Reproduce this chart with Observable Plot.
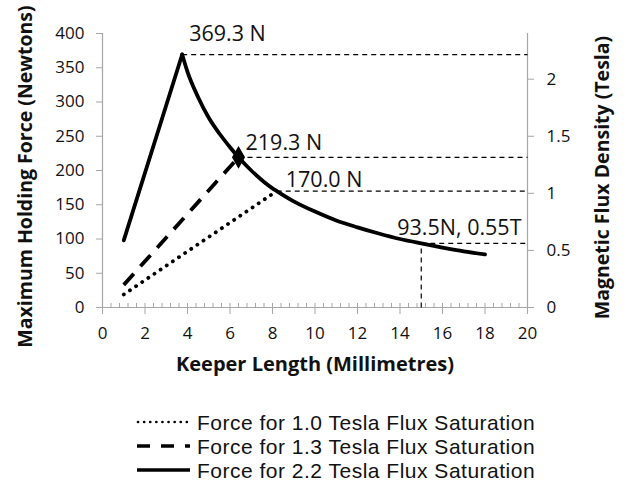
<!DOCTYPE html>
<html>
<head>
<meta charset="utf-8">
<script src="https://cdn.jsdelivr.net/npm/d3@7"></script>
<script src="https://cdn.jsdelivr.net/npm/@observablehq/plot@0.6"></script>
<style>
  html, body { margin: 0; padding: 0; background: #fff; }
  #chart { width: 638px; }
  .legend { font-family: "Liberation Sans", Arial, sans-serif; font-size: 21px; letter-spacing: 0.5px; line-height: 1; color: #111; position: relative; height: 94px; }
  .legend .row { position: absolute; left: 136px; height: 22px; display: flex; align-items: center; white-space: nowrap; }
  .legend .row span { line-height: 1; display: inline-block; }
  .legend svg { width: 56px; height: 12px; margin-right: 5px; flex: none; }
</style>
</head>
<body>
<div id="chart"></div>
<script>
// ---- data ----
const keeper10 = [1, 8.2];
const force10  = [19, 170];
const keeper13 = [1, 6.4];
const force13  = [33, 219.3];
const keeper22 = [1, 3.75, 4, 4.5, 5, 5.5, 6, 6.4, 7, 8, 8.2, 9, 10, 11, 12, 13, 14, 15, 16, 17, 18];
const force22  = [98, 369.3, 344, 307, 277, 254, 234, 219.3, 200, 174, 170, 155, 140, 127, 117, 108, 100, 93.5, 87.5, 82, 77.5];

const seriesNames = [
  "Force for 1.0 Tesla Flux Saturation",
  "Force for 1.3 Tesla Flux Saturation",
  "Force for 2.2 Tesla Flux Saturation"
];

const noteX    = [3.75, 6.4, 8.2, 15];
const noteF    = [369.3, 219.3, 170, 93.5];
const noteText = ["369.3 N", "219.3 N", "170.0 N", "93.5N, 0.55T"];

const xTicks = [0, 2, 4, 6, 8, 10, 12, 14, 16, 18, 20];
const yTicks = [0, 50, 100, 150, 200, 250, 300, 350, 400];
const teslaTicks = [0, 0.5, 1, 1.5, 2];
const teslaMax = 2.4;   // right axis top
const forceMax = 400;   // left axis top

const xTitle = "Keeper Length (Millimetres)";
const yTitle = "Maximum Holding Force (Newtons)";
const y2Title = "Magnetic Flux Density (Tesla)";

// ---- build tables ----
const s10 = keeper10.map((k, i) => ({k, f: force10[i]}));
const s13 = keeper13.map((k, i) => ({k, f: force13[i]}));
const s22 = keeper22.map((k, i) => ({k, f: force22[i]}));
const peakIdx = force22.indexOf(d3.max(force22));
const s22rise = s22.slice(0, peakIdx + 1);
const s22fall = s22.slice(peakIdx);
const notes = noteX.map((x, i) => ({x, f: noteF[i], t: noteText[i]}));
const minorTicks = d3.range(0, 20.0001, 0.4).map(v => +v.toFixed(2));

const W = 638, H = 395, mT = 33, mB = 88, mL = 102, mR = 111;
const innerH = H - mT - mB;
const grey = "#a6a6a6";
const ink = "#111";
const font = "'Open Sans', Lato, sans-serif";

const noteDx = [7, 7, 9, -6];
const noteDy = [-20, -14, -11, -15];

const noteMarks = notes.map((n, i) => Plot.text([n], {
  x: d => (i === 3 ? 20 : d.x), y: "f", text: "t",
  fontSize: 21.5, fill: ink,
  textAnchor: i === 3 ? "end" : "start",
  dx: noteDx[i], dy: noteDy[i]
}));

const chart = Plot.plot({
  width: W, height: H,
  marginTop: mT, marginBottom: mB, marginLeft: mL, marginRight: mR,
  style: {fontFamily: font, color: ink, background: "#fff", overflow: "visible"},
  x: {domain: [0, 20]},
  y: {domain: [0, forceMax]},
  marks: [
    // axis lines
    Plot.ruleX([0, 20], {stroke: grey, strokeWidth: 1.2}),
    Plot.ruleY([0], {stroke: grey, strokeWidth: 1.2}),
    // minor ticks on x axis (upward)
    Plot.tickX(minorTicks, {x: d => d, stroke: grey, strokeWidth: 1, insetTop: innerH - 4}),
    Plot.axisX(xTicks, {tickSize: 7, tickPadding: 12, stroke: grey, fontSize: 17, fill: ink, label: null, tickFormat: d => String(d)}),
    Plot.axisY(yTicks, {anchor: "left", tickSize: 6, tickPadding: 12, stroke: grey, fontSize: 17, fill: ink, label: null, tickFormat: d => String(d)}),
    Plot.axisY(teslaTicks.map(t => t / teslaMax * forceMax), {anchor: "right", tickSize: 6, tickPadding: 13, stroke: grey, fontSize: 17, fill: ink, label: null, tickFormat: (d, i) => String(teslaTicks[i])}),
    // reference dashed lines
    Plot.link(notes, {x1: "x", y1: "f", x2: 20, y2: "f", stroke: "#000", strokeWidth: 1.2, strokeDasharray: "5,4"}),
    Plot.link(notes.slice(3), {x1: "x", y1: 0, x2: "x", y2: "f", stroke: "#000", strokeWidth: 1.2, strokeDasharray: "5,4"}),
    // series
    Plot.line(s10, {x: "k", y: "f", stroke: "#000", strokeWidth: 3.8, strokeDasharray: "0.1,7.3", strokeLinecap: "round"}),
    Plot.line(s13, {x: "k", y: "f", stroke: "#000", strokeWidth: 3.8, strokeDasharray: "15,10", strokeLinecap: "butt"}),
    Plot.line(s22rise, {x: "k", y: "f", stroke: "#000", strokeWidth: 3.8, strokeLinejoin: "round", strokeLinecap: "round"}),
    Plot.line(s22fall, {x: "k", y: "f", stroke: "#000", strokeWidth: 3.8, curve: "monotone-x", strokeLinejoin: "round", strokeLinecap: "round"}),
    Plot.dot([notes[1]], {x: "x", y: "f", symbol: "diamond", r: 6, fill: "#000", stroke: "#000"}),
    // annotations
    ...noteMarks,
    // axis titles
    Plot.text([xTitle], {frameAnchor: "bottom", textAnchor: "middle", dy: 63, fontSize: 20, fontWeight: "bold", fill: ink}),
    Plot.text([yTitle], {frameAnchor: "left", textAnchor: "middle", rotate: -90, dx: -77, dy: 6, fontSize: 19.5, fontWeight: "bold", fill: ink}),
    Plot.text([y2Title], {frameAnchor: "right", textAnchor: "middle", rotate: -90, dx: 75, dy: 7, fontSize: 19.5, fontWeight: "bold", fill: ink})
  ]
});
document.getElementById("chart").appendChild(chart);

// ---- legend ----
const legend = document.createElement("div");
legend.className = "legend";
const styles = [
  {w: 2.6, dash: "0.1,6", cap: "round"},
  {w: 3.6, dash: "13,11", cap: "butt"},
  {w: 3.6, dash: null, cap: "butt"}
];
const rowTop = [16, 40, 64];
seriesNames.forEach((name, i) => {
  const row = document.createElement("div");
  row.className = "row";
  row.style.top = rowTop[i] + "px";
  const st = styles[i];
  row.innerHTML = `<svg viewBox="0 0 56 12"><line x1="${i===0?2:1}" y1="6" x2="54" y2="6" stroke="#000" stroke-width="${st.w}" ${st.dash ? `stroke-dasharray="${st.dash}"` : ""} stroke-linecap="${st.cap}"/></svg><span>${name}</span>`;
  legend.appendChild(row);
});
document.getElementById("chart").appendChild(legend);
</script>
</body>
</html>
